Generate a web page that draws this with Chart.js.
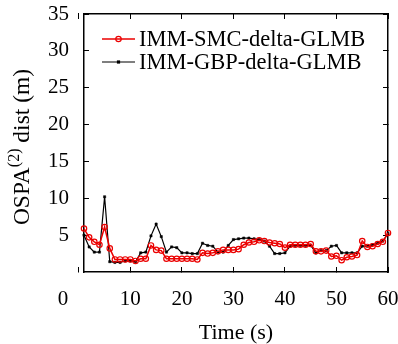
<!DOCTYPE html>
<html>
<head>
<meta charset="utf-8">
<script src="https://cdn.jsdelivr.net/npm/chart.js@4/dist/chart.umd.min.js"></script>
<style>
  html, body { margin: 0; padding: 0; background: #fff; }
</style>
</head>
<body>
<canvas id="grafico" width="398" height="344"></canvas>
<script>
// instantes de tempo (s)
const tempos = [1, 2, 3, 4, 5, 6, 7, 8, 9, 10, 11, 12, 13, 14, 15, 16, 17, 18, 19, 20,
  21, 22, 23, 24, 25, 26, 27, 28, 29, 30, 31, 32, 33, 34, 35, 36, 37, 38, 39, 40,
  41, 42, 43, 44, 45, 46, 47, 48, 49, 50, 51, 52, 53, 54, 55, 56, 57, 58, 59, 60];

// OSPA(2) (m) - IMM-SMC-delta-GLMB
const smcGlmb = [5.9, 4.7, 4.1, 3.7, 6.1, 3.2, 1.7, 1.7, 1.7, 1.7,
  1.5, 1.8, 1.8, 3.6, 3.0, 2.9, 1.8, 1.8, 1.8, 1.8,
  1.8, 1.8, 1.7, 2.6, 2.5, 2.6, 2.8, 3.0, 3.0, 3.0,
  3.1, 3.7, 4.0, 4.1, 4.3, 4.2, 4.0, 3.9, 3.8, 3.3,
  3.7, 3.7, 3.7, 3.7, 3.8, 2.8, 2.8, 2.9, 2.1, 2.2,
  1.6, 2.0, 2.1, 2.3, 4.2, 3.4, 3.5, 3.8, 4.1, 5.3];

// OSPA(2) (m) - IMM-GBP-delta-GLMB
const gbpGlmb = [5.0, 3.4, 2.7, 2.7, 10.2, 1.4, 1.3, 1.3, 1.5, 1.5,
  1.4, 2.6, 2.7, 4.9, 6.5, 4.8, 2.7, 3.4, 3.3, 2.6,
  2.6, 2.5, 2.5, 3.9, 3.6, 3.5, 2.7, 2.7, 3.6, 4.4,
  4.5, 4.6, 4.6, 4.5, 4.4, 4.2, 3.5, 2.5, 2.5, 2.6,
  3.5, 3.6, 3.6, 3.6, 3.6, 2.6, 2.9, 2.9, 3.5, 3.6,
  2.6, 2.6, 2.6, 2.6, 3.5, 3.5, 3.7, 3.9, 4.2, 5.2];

const nomes = ['IMM-SMC-delta-GLMB', 'IMM-GBP-delta-GLMB'];
const xTicks = [0, 10, 20, 30, 40, 50, 60];
const yTicks = [5, 10, 15, 20, 25, 30, 35];

const FONTE = "'Liberation Serif', 'Times New Roman', serif";
const VERMELHO = 'rgb(235, 0, 0)';

// borda preta + marcações voltadas para dentro (tickLength negativo)
const borda = { display: true, color: '#000', width: 1.5 };
const gradeTicks = {
  display: true,
  drawOnChartArea: false,
  drawTicks: true,
  tickLength: -5,
  tickWidth: 1,
  tickColor: '#000',
  color: '#000',
  lineWidth: 1
};

/**
 * Legenda dentro da área do gráfico, linha com marcador no meio
 */
const legendaInterna = {
  id: 'legendaInterna',
  afterDraw(chart) {
    const { ctx, chartArea: a } = chart;
    chart.data.datasets.forEach((ds, i) => {
      const y = a.top + 25 + i * 23;
      const x0 = a.left + 18, x1 = a.left + 51, xm = (x0 + x1) / 2;
      ctx.save();
      ctx.setLineDash([]);
      ctx.strokeStyle = ds.borderColor;
      ctx.lineWidth = ds.borderWidth;
      ctx.beginPath(); ctx.moveTo(x0, y); ctx.lineTo(x1, y); ctx.stroke();
      ctx.lineWidth = ds.pointBorderWidth;
      if (ds.pointStyle === 'circle') {
        ctx.beginPath(); ctx.arc(xm, y, ds.pointRadius, 0, Math.PI * 2); ctx.stroke();
      } else {
        ctx.fillStyle = ds.pointBackgroundColor;
        const r = ds.pointRadius;
        ctx.fillRect(xm - r, y - r, 2 * r, 2 * r);
      }
      ctx.fillStyle = '#000';
      ctx.font = '22.5px ' + FONTE;
      ctx.textBaseline = 'middle';
      ctx.textAlign = 'left';
      ctx.fillText(ds.label, a.left + 55, y + 1);
      ctx.restore();
    });
  }
};

/**
 * Título do eixo y com sobrescrito: OSPA^(2) dist (m)
 */
const tituloY = {
  id: 'tituloY',
  afterDraw(chart) {
    const { ctx, chartArea: a } = chart;
    const fMain = '23.5px ' + FONTE, fSup = '16px ' + FONTE;
    ctx.save();
    ctx.translate(21, (a.top + a.bottom) / 2 + 4);
    ctx.rotate(-Math.PI / 2);
    ctx.fillStyle = '#000';
    ctx.textBaseline = 'alphabetic';
    ctx.textAlign = 'left';
    ctx.font = fMain; const w1 = ctx.measureText('OSPA').width;
    ctx.font = fSup; const w2 = ctx.measureText('(2)').width;
    ctx.font = fMain; const w3 = ctx.measureText(' dist (m)').width;
    let x = -(w1 + w2 + w3) / 2;
    ctx.font = fMain; ctx.fillText('OSPA', x, 8); x += w1;
    ctx.font = fSup; ctx.fillText('(2)', x, -2); x += w2;
    ctx.font = fMain; ctx.fillText(' dist (m)', x, 8);
    ctx.restore();
  }
};

new Chart(document.getElementById('grafico').getContext('2d'), {
  type: 'line',
  data: {
    datasets: [
      {
        label: nomes[0],
        data: tempos.map((t, i) => ({ x: t, y: smcGlmb[i] })),
        borderColor: VERMELHO,
        borderWidth: 1.5,
        pointStyle: 'circle',
        pointRadius: 2.7,
        pointBorderWidth: 1.2,
        pointBorderColor: VERMELHO,
        pointBackgroundColor: 'rgba(255, 255, 255, 0)',
        tension: 0,
        clip: false
      },
      {
        label: nomes[1],
        data: tempos.map((t, i) => ({ x: t, y: gbpGlmb[i] })),
        borderColor: '#000',
        borderWidth: 1.2,
        pointStyle: 'rect',
        pointRadius: 1.6,
        pointBorderWidth: 0.5,
        pointBorderColor: '#000',
        pointBackgroundColor: '#000',
        tension: 0,
        clip: false
      }
    ]
  },
  options: {
    responsive: false,
    animation: false,
    devicePixelRatio: 1,
    events: [],
    layout: { padding: { top: 14, right: 10, left: 0, bottom: 0 } },
    plugins: {
      legend: { display: false },
      tooltip: { enabled: false }
    },
    scales: {
      x: {
        type: 'linear',
        position: 'bottom',
        min: 1,
        max: 60,
        afterBuildTicks: s => { s.ticks = xTicks.map(v => ({ value: v })); },
        afterFit: s => { s.height = 72; s.paddingLeft = 0; s.paddingRight = 0; },
        grid: gradeTicks,
        border: borda,
        ticks: {
          autoSkip: false,
          maxRotation: 0,
          padding: 20,
          color: '#000',
          font: { family: FONTE, size: 21 },
          // o rótulo 0 fica deslocado à esquerda como no original
          callback: v => v === 0 ? '0      ' : String(v)
        },
        title: {
          display: true,
          text: 'Time (s)',
          color: '#000',
          font: { family: FONTE, size: 22, lineHeight: 1 },
          padding: { top: 0, bottom: 0 }
        }
      },
      xTopo: {
        type: 'linear',
        position: 'top',
        min: 1,
        max: 60,
        afterBuildTicks: s => { s.ticks = xTicks.map(v => ({ value: v })); },
        afterFit: s => { s.height = 0; s.paddingLeft = 0; s.paddingRight = 0; },
        grid: gradeTicks,
        border: borda,
        ticks: { display: false }
      },
      y: {
        position: 'left',
        min: 0,
        max: 35,
        afterBuildTicks: s => { s.ticks = yTicks.map(v => ({ value: v })); },
        afterFit: s => { s.width = 84; s.paddingTop = 0; s.paddingBottom = 0; },
        grid: gradeTicks,
        border: borda,
        ticks: {
          padding: 20,
          color: '#000',
          font: { family: FONTE, size: 21 }
        }
      },
      yDireita: {
        type: 'linear',
        position: 'right',
        min: 0,
        max: 35,
        afterBuildTicks: s => { s.ticks = yTicks.map(v => ({ value: v })); },
        afterFit: s => { s.width = 0; s.paddingTop = 0; s.paddingBottom = 0; },
        grid: gradeTicks,
        border: borda,
        ticks: { display: false }
      }
    }
  },
  plugins: [legendaInterna, tituloY]
});
</script>
</body>
</html>
